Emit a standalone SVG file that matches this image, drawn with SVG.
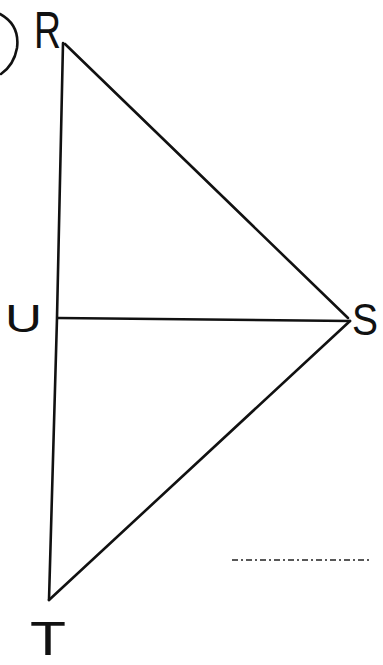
<svg xmlns="http://www.w3.org/2000/svg" width="383" height="665" viewBox="0 0 383 665">
<style>
.ln{stroke:#111;stroke-width:2.6;fill:none;stroke-linecap:round;stroke-linejoin:round}
.lb{font-family:"Liberation Sans",Arial,sans-serif;font-weight:normal;fill:#111}
</style>
<rect width="383" height="665" fill="#fff"/>
<g id="connectors">
<path class="ln" d="M63,43 L57,318 L49,600"/>
<path class="ln" d="M65,44 L348,318"/>
<path class="ln" d="M58,318 L350,321"/>
<path class="ln" d="M350,321 L49,600"/>
<path class="ln" d="M0,14 Q20,25 17,48 Q14,65 1,74"/>
<path d="M232,560 H372" stroke="#222" stroke-width="1.6" stroke-dasharray="6,3,2,3"/>
</g>
<g id="R"><text class="lb" x="34" y="48" font-size="52" textLength="27" lengthAdjust="spacingAndGlyphs">R</text></g>
<g id="U"><text class="lb" x="5" y="332" font-size="38" textLength="37" lengthAdjust="spacingAndGlyphs">U</text></g>
<g id="S"><text class="lb" x="352" y="335" font-size="44" textLength="26" lengthAdjust="spacingAndGlyphs">S</text></g>
<g id="T"><text class="lb" x="30" y="655" font-size="48" textLength="36" lengthAdjust="spacingAndGlyphs">T</text></g>
</svg>
